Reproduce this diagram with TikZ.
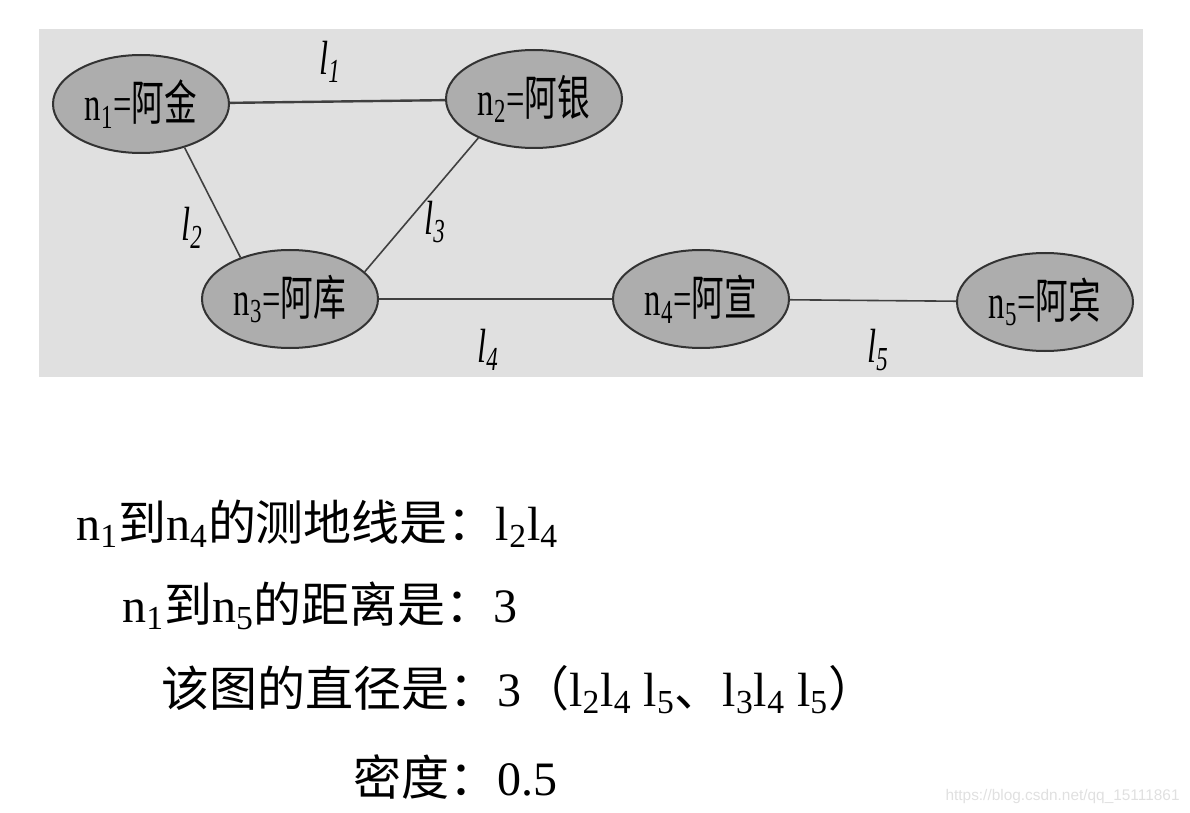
\documentclass[tikz,border=0pt]{standalone}
\usepackage{fontspec}
\setmainfont{Liberation Serif}
\newfontfamily\cjk{Noto Sans CJK SC}
\newfontfamily\cjknarrow[FakeStretch=0.68]{Noto Sans CJK SC}
\newfontfamily\serifnarrow[FakeStretch=0.68]{Liberation Serif}
\newfontfamily\markfont{Liberation Sans}
\usetikzlibrary{shapes.geometric}

\newcommand{\zh}[1]{{\cjk #1}}
\newcommand{\zhn}[1]{{\cjknarrow #1}}

\tikzset{
    person/.style={ellipse, draw=black!80, line width=1pt, fill=black!32,
        minimum width=88pt, minimum height=49pt, inner sep=0pt,
        font=\serifnarrow\fontsize{24}{24}\selectfont},
    link/.style={black!75, line width=0.8pt},
    linklabel/.style={inner sep=0pt, font=\serifnarrow\itshape\fontsize{24}{24}\selectfont},
    fact/.style={anchor=base west, inner sep=0pt, font=\fontsize{24}{24}\selectfont}
}

\begin{document}
\begin{tikzpicture}[x=0.5pt, y=-0.5pt]
    \useasboundingbox (0,0) rectangle (1190,813);

    % Grey backdrop of the graph
    \fill[black!12] (39,29) rectangle (1143,377);

    % People
    \node[person] (n1) at (141,104) {n\textsubscript{1}=\zhn{阿金}};
    \node[person] (n2) at (534,99) {n\textsubscript{2}=\zhn{阿银}};
    \node[person] (n3) at (290,299) {n\textsubscript{3}=\zhn{阿库}};
    \node[person] (n4) at (701,299) {n\textsubscript{4}=\zhn{阿宣}};
    \node[person] (n5) at (1045,302) {n\textsubscript{5}=\zhn{阿宾}};

    % Links
    \draw[link, line width=1.2pt] (n1) -- (n2);
    \draw[link] (n1.-45) -- (n3.140);
    \draw[link] (n2.215) -- (n3.20);
    \draw[link, line width=1.2pt] (n3) -- (n4);
    \draw[link] (n4) -- (n5);

    % Link labels
    \node[linklabel] (l1) at (330,62) {l\textsubscript{1}};
    \node[linklabel] (l2) at (192,228) {l\textsubscript{2}};
    \node[linklabel] (l3) at (435,222) {l\textsubscript{3}};
    \node[linklabel] (l4) at (488,350) {l\textsubscript{4}};
    \node[linklabel] (l5) at (878,350) {l\textsubscript{5}};

    % What the graph tells
    \node[fact] (geo) at (76,540) {n\textsubscript{1}\zh{到}n\textsubscript{4}\zh{的测地线是：}l\textsubscript{2}l\textsubscript{4}};
    \node[fact] (dist) at (122,622) {n\textsubscript{1}\zh{到}n\textsubscript{5}\zh{的距离是：}3};
    \node[fact] (diam) at (161,706) {\zh{该图的直径是：}3\zh{（}l\textsubscript{2}l\textsubscript{4} l\textsubscript{5}\zh{、}l\textsubscript{3}l\textsubscript{4} l\textsubscript{5}\zh{）}};
    \node[fact] (dens) at (353,795) {\zh{密度：}0.5};

    % Watermark
    \node[anchor=base east, inner sep=0pt, text=black!12, font=\markfont\fontsize{7.7}{7.7}\selectfont] (mark) at (1180,800) {https://blog.csdn.net/qq\_15111861};
\end{tikzpicture}
\end{document}
